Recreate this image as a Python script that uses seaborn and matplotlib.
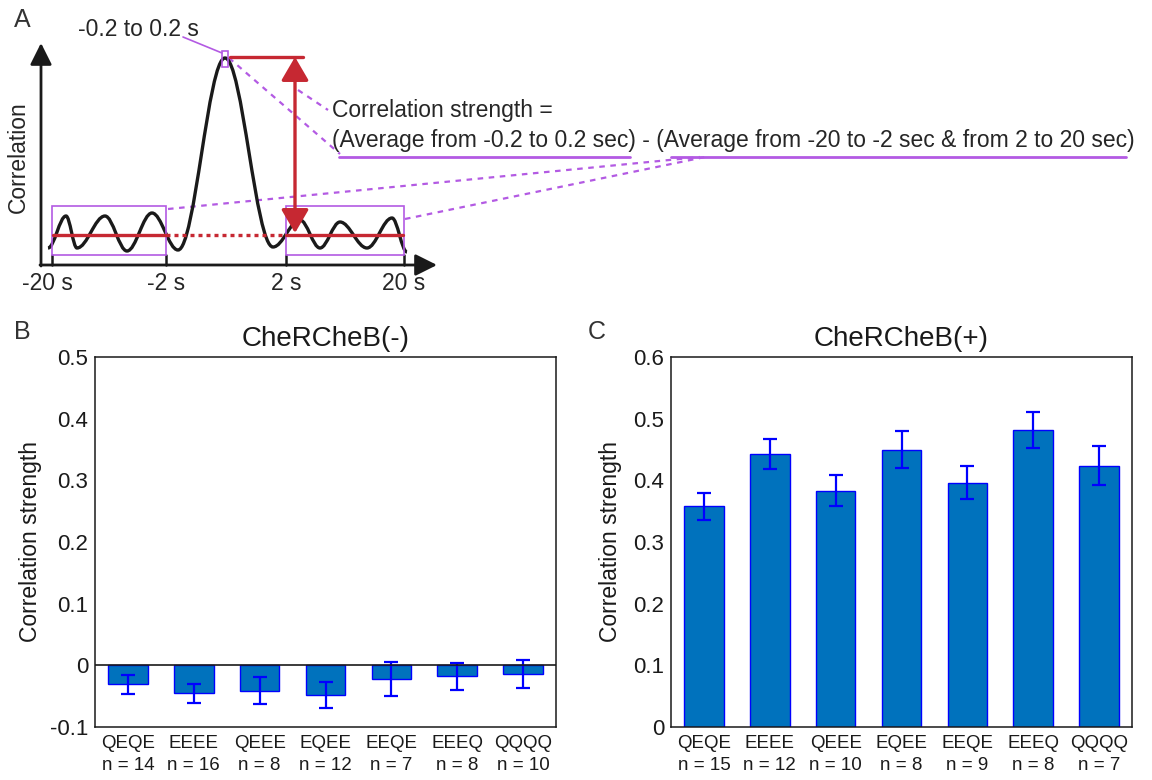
import matplotlib
matplotlib.use('Agg')
import matplotlib.pyplot as plt
from matplotlib.path import Path
from matplotlib.patches import PathPatch, Rectangle
import numpy as np
import pandas as pd
import seaborn as sns

# ---- data ----
genotypes = ['QEQE', 'EEEE', 'QEEE', 'EQEE', 'EEQE', 'EEEQ', 'QQQQ']
n_minus = [14, 16, 8, 12, 7, 8, 10]
n_plus = [15, 12, 10, 8, 9, 8, 7]
strength_minus = [-0.031, -0.045, -0.041, -0.048, -0.022, -0.018, -0.014]
sem_minus = [0.016, 0.0155, 0.022, 0.021, 0.028, 0.022, 0.022]
strength_plus = [0.358, 0.443, 0.383, 0.450, 0.396, 0.482, 0.424]
sem_plus = [0.022, 0.024, 0.025, 0.030, 0.027, 0.029, 0.032]

# schematic in panel A (pixel units of the panel), extrema of the sketched curve
curve_x = [48, 66, 77, 105, 127, 152, 178, 225, 273, 300, 320, 340, 367, 392, 407]
curve_y = [248, 216, 248, 216, 251, 213, 250, 58, 247, 220, 248, 222, 248, 218, 252]
lag_ticks = [52, 166, 286, 404]
lag_labels = ['-20 s', '-2 s', '2 s', '20 s']

bar_face = '#0072BD'
bar_edge = '#0000FF'
red = '#C62832'
purple = '#B35AE3'

sns.set_theme(style='white')
plt.rcParams['font.family'] = ['Liberation Sans', 'DejaVu Sans']

fig = plt.figure(figsize=(11.52, 7.8), dpi=100)

# ---------------- panel A ----------------
axA = fig.add_axes([0, 1 - 300 / 780, 1, 300 / 780])
axA.set_xlim(0, 1152)
axA.set_ylim(300, 0)
axA.axis('off')

# smooth curve through extrema, horizontal tangents at each extremum
verts = [(curve_x[0], curve_y[0])]
codes = [Path.MOVETO]
k = 0.36
for i in range(len(curve_x) - 1):
    x0, y0, x1, y1 = curve_x[i], curve_y[i], curve_x[i + 1], curve_y[i + 1]
    dx = x1 - x0
    verts += [(x0 + k * dx, y0), (x1 - k * dx, y1), (x1, y1)]
    codes += [Path.CURVE4] * 3
axA.add_patch(PathPatch(Path(verts, codes), fill=False, lw=2.4, color='k', zorder=3))

# boxes
axA.add_patch(Rectangle((52, 206), 114, 49, fill=False, ec=purple, lw=1.2, zorder=4))
axA.add_patch(Rectangle((286, 206), 118, 49, fill=False, ec=purple, lw=1.2, zorder=4))
axA.add_patch(Rectangle((222, 51), 6, 16, fill=False, ec=purple, lw=1.2, zorder=4))

# axes of the schematic
axA.annotate('', xy=(41, 43), xytext=(41, 266),
             arrowprops=dict(arrowstyle='-|>,head_length=0.6,head_width=0.3', color='k', lw=2,
                             mutation_scale=22, shrinkA=0, shrinkB=0))
axA.annotate('', xy=(437, 265), xytext=(40, 265),
             arrowprops=dict(arrowstyle='-|>,head_length=0.6,head_width=0.3', color='k', lw=2,
                             mutation_scale=22, shrinkA=0, shrinkB=0))
for xt, lab in zip(lag_ticks, lag_labels):
    axA.plot([xt, xt], [255, 265], color='k', lw=1.8)
    axA.text(xt - (5 if lab == '-20 s' else 0), 283, lab, ha='center', va='center', fontsize=16.5)
axA.text(18, 157, 'Correlation', rotation=90, ha='center', va='center', fontsize=16.5)

# red averages
axA.plot([53, 166], [235, 235], color=red, lw=2.4, zorder=5)
axA.plot([166, 286], [235, 235], color=red, lw=2.4, ls=(0, (1.2, 1.2)), zorder=5)
axA.plot([286, 403], [235, 235], color=red, lw=2.4, zorder=5)
axA.plot([230, 303], [57, 57], color=red, lw=2.4, zorder=5)
axA.annotate('', xy=(295, 57), xytext=(295, 233),
             arrowprops=dict(arrowstyle='<|-|>,head_length=0.6,head_width=0.35', color=red, lw=2.4,
                             mutation_scale=24, shrinkA=0, shrinkB=0), zorder=6)

# labels and connector lines
axA.text(138, 30, '-0.2 to 0.2 s', ha='center', va='center', fontsize=16.5)
axA.plot([183, 222], [37, 53], color=purple, lw=1.2)
axA.text(332, 110, 'Correlation strength =', ha='left', va='center', fontsize=16.5)
axA.text(332, 140, '(Average from -0.2 to 0.2 sec) - (Average from -20 to -2 sec & from 2 to 20 sec)',
         ha='left', va='center', fontsize=16.5)
axA.plot([339, 630], [157, 157], color=purple, lw=2)
axA.plot([671, 1126], [157, 157], color=purple, lw=2)
dash = (0, (2.5, 2.5))
axA.plot([229, 340], [58, 154], color=purple, lw=1.6, ls=dash)
axA.plot([298, 328], [90, 110], color=purple, lw=1.6, ls=dash)
axA.plot([168, 700], [209, 157], color=purple, lw=1.6, ls=dash)
axA.plot([405, 705], [219, 157], color=purple, lw=1.6, ls=dash)

fig.text(22 / 1152, 1 - 20 / 780, 'A', fontsize=18, color='#333333', ha='center', va='center')

# ---------------- panels B and C ----------------
def bar_panel(rect, vals, errs, ns, title, yticks, ylim, zero_line):
    ax = fig.add_axes(rect)
    df = pd.DataFrame({'genotype': genotypes, 'strength': vals})
    sns.barplot(data=df, x='genotype', y='strength', color=bar_face, saturation=1,
                edgecolor=bar_edge, linewidth=1.0, width=0.6, errorbar=None, ax=ax, zorder=2)
    ax.errorbar(range(len(vals)), vals, yerr=errs, fmt='none', ecolor=bar_edge,
                elinewidth=1.6, capsize=4.7, capthick=1.6, zorder=3)
    if zero_line:
        ax.axhline(0, color='k', lw=1.2, zorder=4)
    ax.set_xlim(-0.5, len(vals) - 0.5)
    ax.set_ylim(*ylim)
    ax.set_yticks(yticks)
    ax.set_yticklabels(['0' if abs(t) < 1e-9 else f'{t:g}' for t in yticks])
    ax.set_xticks(range(len(vals)))
    ax.set_xticklabels([f'{g}\nn = {n}' for g, n in zip(genotypes, ns)], linespacing=1.35)
    ax.tick_params(axis='y', direction='in', length=5, width=1.1, labelsize=16, pad=5, colors='k')
    ax.tick_params(axis='x', length=0, labelsize=13.5, pad=6, colors='k')
    for s in ax.spines.values():
        s.set_visible(True)
        s.set_color('k')
        s.set_linewidth(1.1)
    ax.set_xlabel('')
    ax.set_ylabel('Correlation strength', fontsize=16.5, color='k')
    ax.set_title(title, fontsize=20, pad=8, color='k')
    ax.grid(False)
    return ax

axB = bar_panel([95 / 1152, 1 - 727 / 780, 461 / 1152, 370 / 780],
                strength_minus, sem_minus, n_minus, 'CheRCheB(-)',
                np.round(np.arange(-0.1, 0.51, 0.1), 1), (-0.1, 0.5), True)
axC = bar_panel([671 / 1152, 1 - 727 / 780, 461 / 1152, 370 / 780],
                strength_plus, sem_plus, n_plus, 'CheRCheB(+)',
                np.round(np.arange(0, 0.61, 0.1), 1), (0, 0.6), False)
axB.yaxis.set_label_coords(-0.115, 0.5)
axC.yaxis.set_label_coords(-0.106, 0.5)

fig.text(22 / 1152, 1 - 332 / 780, 'B', fontsize=18, color='#333333', ha='center', va='center')
fig.text(597 / 1152, 1 - 332 / 780, 'C', fontsize=18, color='#333333', ha='center', va='center')

fig.savefig('out.png', dpi=100)
